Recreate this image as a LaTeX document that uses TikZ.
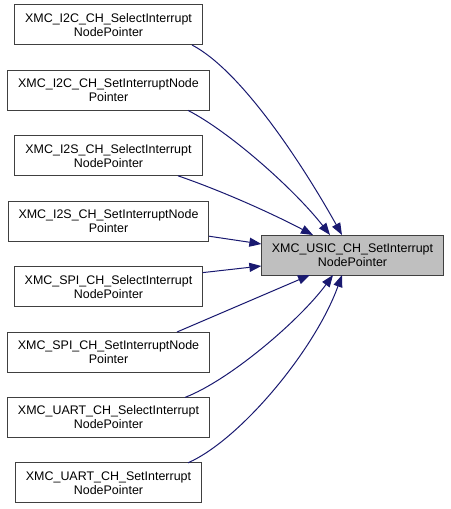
\documentclass[tikz,border=0pt]{standalone}
\usepackage{fontspec}
\setmainfont{Liberation Sans}
\usepackage{xcolor}
\usepackage{tikz}
\usetikzlibrary{positioning,arrows.meta}

\definecolor{edgeblue}{RGB}{25,25,112}
\definecolor{boxline}{RGB}{64,64,64}
\definecolor{focusgray}{RGB}{191,191,191}

\begin{document}
\begin{tikzpicture}[
    x=1bp, y=-1bp,
    node distance=25.4bp,
    fnbox/.style={rectangle, draw=boxline, line width=1bp, minimum height=40bp, inner xsep=10.5bp, inner ysep=3bp, outer sep=0pt, align=center, fill=white, font=\fontsize{12.5}{14}\selectfont},
    focus/.style={fnbox, fill=focusgray},
    call/.style={-{Triangle[length=12bp,width=9bp]}, draw=edgeblue, line width=1bp}
]
\useasboundingbox (0,0) rectangle (451,509);
\node[fnbox] (s1) at (108.5,25) {XMC\_I2C\_CH\_SelectInterrupt\\NodePointer};
\node[fnbox, below=of s1] (s2) {XMC\_I2C\_CH\_SetInterruptNode\\Pointer};
\node[fnbox, below=of s2] (s3) {XMC\_I2S\_CH\_SelectInterrupt\\NodePointer};
\node[fnbox, below=of s3] (s4) {XMC\_I2S\_CH\_SetInterruptNode\\Pointer};
\node[fnbox, below=of s4] (s5) {XMC\_SPI\_CH\_SelectInterrupt\\NodePointer};
\node[fnbox, below=of s5] (s6) {XMC\_SPI\_CH\_SetInterruptNode\\Pointer};
\node[fnbox, below=of s6] (s7) {XMC\_UART\_CH\_SelectInterrupt\\NodePointer};
\node[fnbox, below=of s7] (s8) {XMC\_UART\_CH\_SetInterrupt\\NodePointer};
\node[focus] (t) at (352.5,255) {XMC\_USIC\_CH\_SetInterrupt\\NodePointer};
\draw[call] ([xshift=83.5bp]s1.south) .. controls (240,70) and (300,160) .. ([xshift=-10.5bp]t.north);
\draw[call] ([xshift=79.5bp]s2.south) .. controls (230,132) and (295,190) .. ([xshift=-22.5bp]t.north);
\draw[call] ([xshift=69.5bp]s3.south) .. controls (225,192) and (275,215) .. ([xshift=-39.5bp]t.north);
\draw[call] ([yshift=-15bp]s4.east) -- ([yshift=11bp]t.west);
\draw[call] ([yshift=14bp]s5.east) -- ([yshift=-11bp]t.west);
\draw[call] ([xshift=68.5bp]s6.north) -- ([xshift=-42.5bp]t.south);
\draw[call] ([xshift=76.5bp]s7.north) .. controls (230,380) and (300,320) .. ([xshift=-19.5bp]t.south);
\draw[call] ([xshift=79.5bp]s8.north) .. controls (240,440) and (315,350) .. ([xshift=-10.5bp]t.south);
\end{tikzpicture}
\end{document}
